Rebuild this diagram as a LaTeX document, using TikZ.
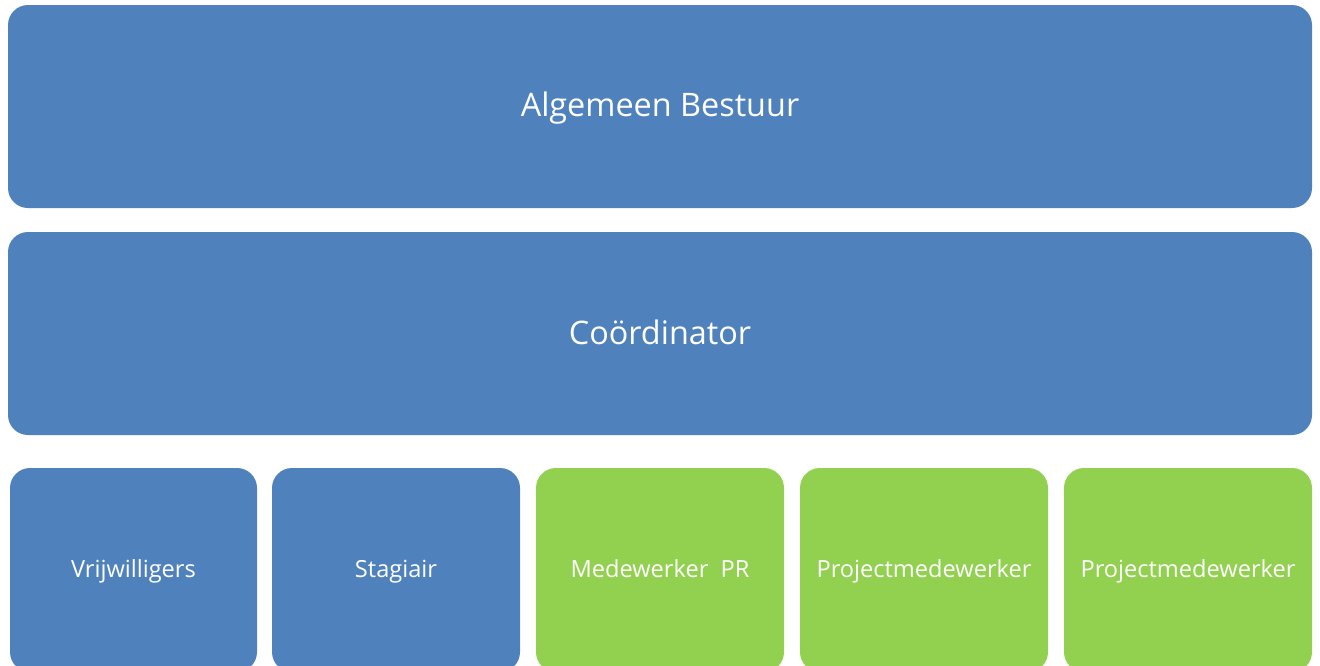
\documentclass[tikz,border=0pt]{standalone}
\usepackage{fontspec}
\setmainfont{Open Sans}
\definecolor{boxblue}{HTML}{4F81BD}
\definecolor{boxgreen}{HTML}{92D050}
\begin{document}
\begin{tikzpicture}[x=0.75pt,y=-0.75pt,
  bigtext/.style={text=white,anchor=base,inner sep=0pt,font=\fontsize{24.3}{28}\selectfont},
  smalltext/.style={text=white,anchor=base,inner sep=0pt,font=\fontsize{17.7}{21}\selectfont}]
\useasboundingbox (0,0) rectangle (1320,665);
\clip (0,0) rectangle (1320,665);
\fill[boxblue,rounded corners=15pt] (8,5) rectangle (1312,208);
\node[bigtext] (ab) at (660,116.5) {Algemeen Bestuur};
\fill[boxblue,rounded corners=15pt] (8,232) rectangle (1312,435);
\node[bigtext] (co) at (660,344) {Coördinator};
\fill[boxblue,rounded corners=15pt] (10,468) rectangle (257,672);
\node[smalltext] (v) at (133.5,577) {Vrijwilligers};
\fill[boxblue,rounded corners=15pt] (272,468) rectangle (520,672);
\node[smalltext] (s) at (396,577) {Stagiair};
\fill[boxgreen,rounded corners=15pt] (536,468) rectangle (784,672);
\node[smalltext] (m) at (660,577) {Medewerker\ \ PR};
\fill[boxgreen,rounded corners=15pt] (800,468) rectangle (1048,672);
\node[smalltext] (p1) at (924,577) {Projectmedewerker};
\fill[boxgreen,rounded corners=15pt] (1064,468) rectangle (1312,672);
\node[smalltext] (p2) at (1188,577) {Projectmedewerker};
\end{tikzpicture}
\end{document}
